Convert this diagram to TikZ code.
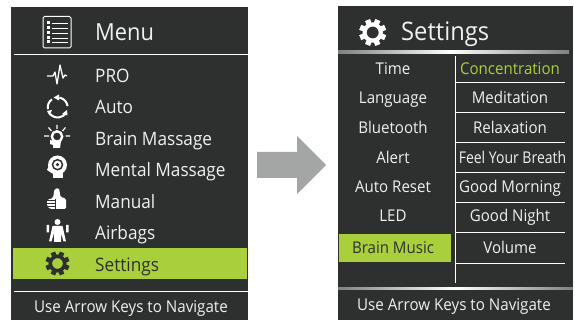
\documentclass[tikz,border=0pt]{standalone}
\usepackage{fontspec}
\setmainfont[FakeStretch=0.93]{Open Sans}
\definecolor{panel}{HTML}{2E3030}
\definecolor{lime}{HTML}{A9D03C}
\definecolor{arrowgray}{HTML}{A4A6A5}
\definecolor{txt}{HTML}{F0F0F0}
\tikzset{
  panelbox/.style={fill=panel,draw=none},
  item/.style={text=txt,font=\fontsize{18.5}{20}\selectfont,anchor=base west,inner sep=0pt},
  sub/.style={text=txt,font=\fontsize{16.2}{18}\selectfont,anchor=base,inner sep=0pt},
  foot/.style={text=txt,font=\fontsize{16.3}{18}\selectfont,anchor=base,inner sep=0pt},
  rule/.style={white,line width=1pt},
  autoarc/.style={white,line width=2pt},
}
\newcommand{\gearicon}[4]{% x y colour outer-radius
  \foreach \a in {0,45,...,315}{\fill[#3,rotate around={\a+22.5:(#1,#2)}] (#1-#4*0.2,#2-#4) rectangle (#1+#4*0.2,#2-#4*0.6);}
  \draw[#3,line width=#4*0.3pt] (#1,#2) circle ({#4*0.6});
}
\begin{document}
\begin{tikzpicture}[x=1pt,y=-1pt]
\useasboundingbox (0,0) rectangle (575,320);
\fill[white] (0,0) rectangle (575,320);
% left panel
\fill[panelbox] (11,7) rectangle (248,320);
\draw[rule] (14,54.5) -- (248,54.5);
\draw[rule] (14,291) -- (248,291);
\fill[lime] (13,248) rectangle (247,279);
% menu icon
\draw[white,line width=1pt,rounded corners=1.5pt] (43,16.5) rectangle (71,48);
\foreach \y in {23,28,33,38,42}{ \fill[white] (46.5,\y-1.5) rectangle (50,\y+1.5); \draw[white,line width=.9pt] (52,\y) -- (68,\y);}
\node[item,font=\fontsize{23.5}{25}\selectfont] (menu) at (95,41) {Menu};
\node[item] (pro) at (95,82.5) {PRO};
\node[item] (auto) at (95,113.5) {Auto};
\node[item] (bm) at (95,145.5) {Brain Massage};
\node[item] (mm) at (95,177) {Mental Massage};
\node[item] (man) at (95,208.5) {Manual};
\node[item] (air) at (95,239.5) {Airbags};
\node[item,text=panel] (set) at (95,271) {Settings};
\node[foot] (useL) at (131,312.5) {Use Arrow Keys to Navigate};
% PRO icon
\draw[white,line width=1.3pt,line join=round] (47,76) -- (53,76) -- (55,72) -- (57,84) -- (60,65) -- (63,78) -- (65,75) -- (67,76);
% Auto icon
\draw[autoarc] (57.7,107.5) ++(-80:10) arc (-80:-8:10);
\draw[autoarc] (57.7,107.5) ++(-125:10) arc (-125:-190:10);
\draw[autoarc] (57.7,107.5) ++(140:10) arc (140:30:10);
\fill[white] (53.5,97.5) -- (59,94.5) -- (59,100.5) -- cycle;
\fill[white] (47,111) -- (52,110) -- (49.5,115.5) -- cycle;
\fill[white] (67.5,115.5) -- (62,114) -- (67,110) -- cycle;
% bulb icon
\draw[white,line width=2.4pt] (57,136.5) circle (5.2);
\fill[white] (50,140) -- (53,141) -- (61,141) -- (60,148) -- (53,148) -- (53,145) -- (50,144) -- cycle;
\draw[white,line width=1.2pt] (44,136) -- (49,136) (65.5,136) -- (70,136) (48.5,127.5) -- (51.5,131) (65.5,127.5) -- (62.5,131) (57,125) -- (57,129);
% mental icon
\fill[white] (57.5,165) circle (9.5);
\fill[white] (53,170) rectangle (63,178.5);
\fill[white] (49,165) -- (47,170) -- (50,172) -- (55,175) -- cycle;
\draw[panel,line width=1.5pt] (57.5,164.7) circle (5);
\fill[panel] (57.5,164.7) circle (1.8);
% thumb icon
\fill[white,rounded corners=1.5pt] (53,198) -- (54.5,189) -- (59,188) -- (60.5,197) -- (66,198.5) -- (66,209) -- (50,209) -- (47,206) -- (47,200) -- cycle;
\draw[panel,line width=.8pt] (47,200.5) -- (55,200.5) (47,203.5) -- (55,203.5) (47,206.5) -- (55,206.5) (55,199) -- (55,209);
% airbags icon
\fill[white] (57.5,222) circle (3);
\fill[white] (52.5,226) -- (62.5,226) -- (66,241.5) -- (63.5,241.5) -- (61,233) -- (61,242) -- (54,242) -- (54,233) -- (51.5,241.5) -- (49,241.5) -- cycle;
\fill[white] (46.5,225) rectangle (49,232.5) (66,225) rectangle (68.5,232.5);
% settings gear
\gearicon{57.5}{263.5}{panel}{12}
% arrow
\fill[arrowgray] (257,152) -- (297,152) -- (297,136) -- (326,165) -- (297,194) -- (297,178) -- (257,178) -- cycle;
% right panel
\fill[panelbox] (338,6) rectangle (573,320);
\shade[left color=gray,right color=white] (338,51) rectangle (450,53.5);
\shade[left color=white,right color=gray] (450,51) rectangle (569,53.5);
\shade[left color=gray,right color=white] (338,287) rectangle (455,289.5);
\shade[left color=white,right color=gray] (455,287) rectangle (573,289.5);
\gearicon{372.7}{32.5}{white}{13.5}
\node[item,font=\fontsize{25.5}{27}\selectfont] (settings) at (401,41) {Settings};
\draw[white,line width=1.2pt] (455.5,56) -- (455.5,283);
\foreach \y in {82,112,142,172.5,202,232,263}{\draw[white,line width=.9pt] (456,\y) -- (565,\y);}
\fill[lime] (339,234) rectangle (451,262);
\foreach \n/\t/\y in {a/Time/74.5,b/Language/104,c/Bluetooth/133.5,d/Alert/163.5,e/Auto Reset/192.5,f/LED/222}
  {\node[sub] (l\n) at (393,\y) {\t};}
\node[sub,text=panel] (lg) at (393,253) {Brain Music};
\node[sub,text=lime] (ra) at (510,74.5) {Concentration};
\foreach \n/\t/\y in {b/Meditation/104,c/Relaxation/133.5,e/Good Morning/192.5,f/Good Night/222,g/Volume/253}
  {\node[sub] (r\n) at (510,\y) {\t};}
\node[sub] (rd) at (512.5,163.5) {\scalebox{0.93}[1]{Feel Your Breath}};
\node[foot] (useR) at (454,310) {Use Arrow Keys to Navigate};
\end{tikzpicture}
\end{document}
